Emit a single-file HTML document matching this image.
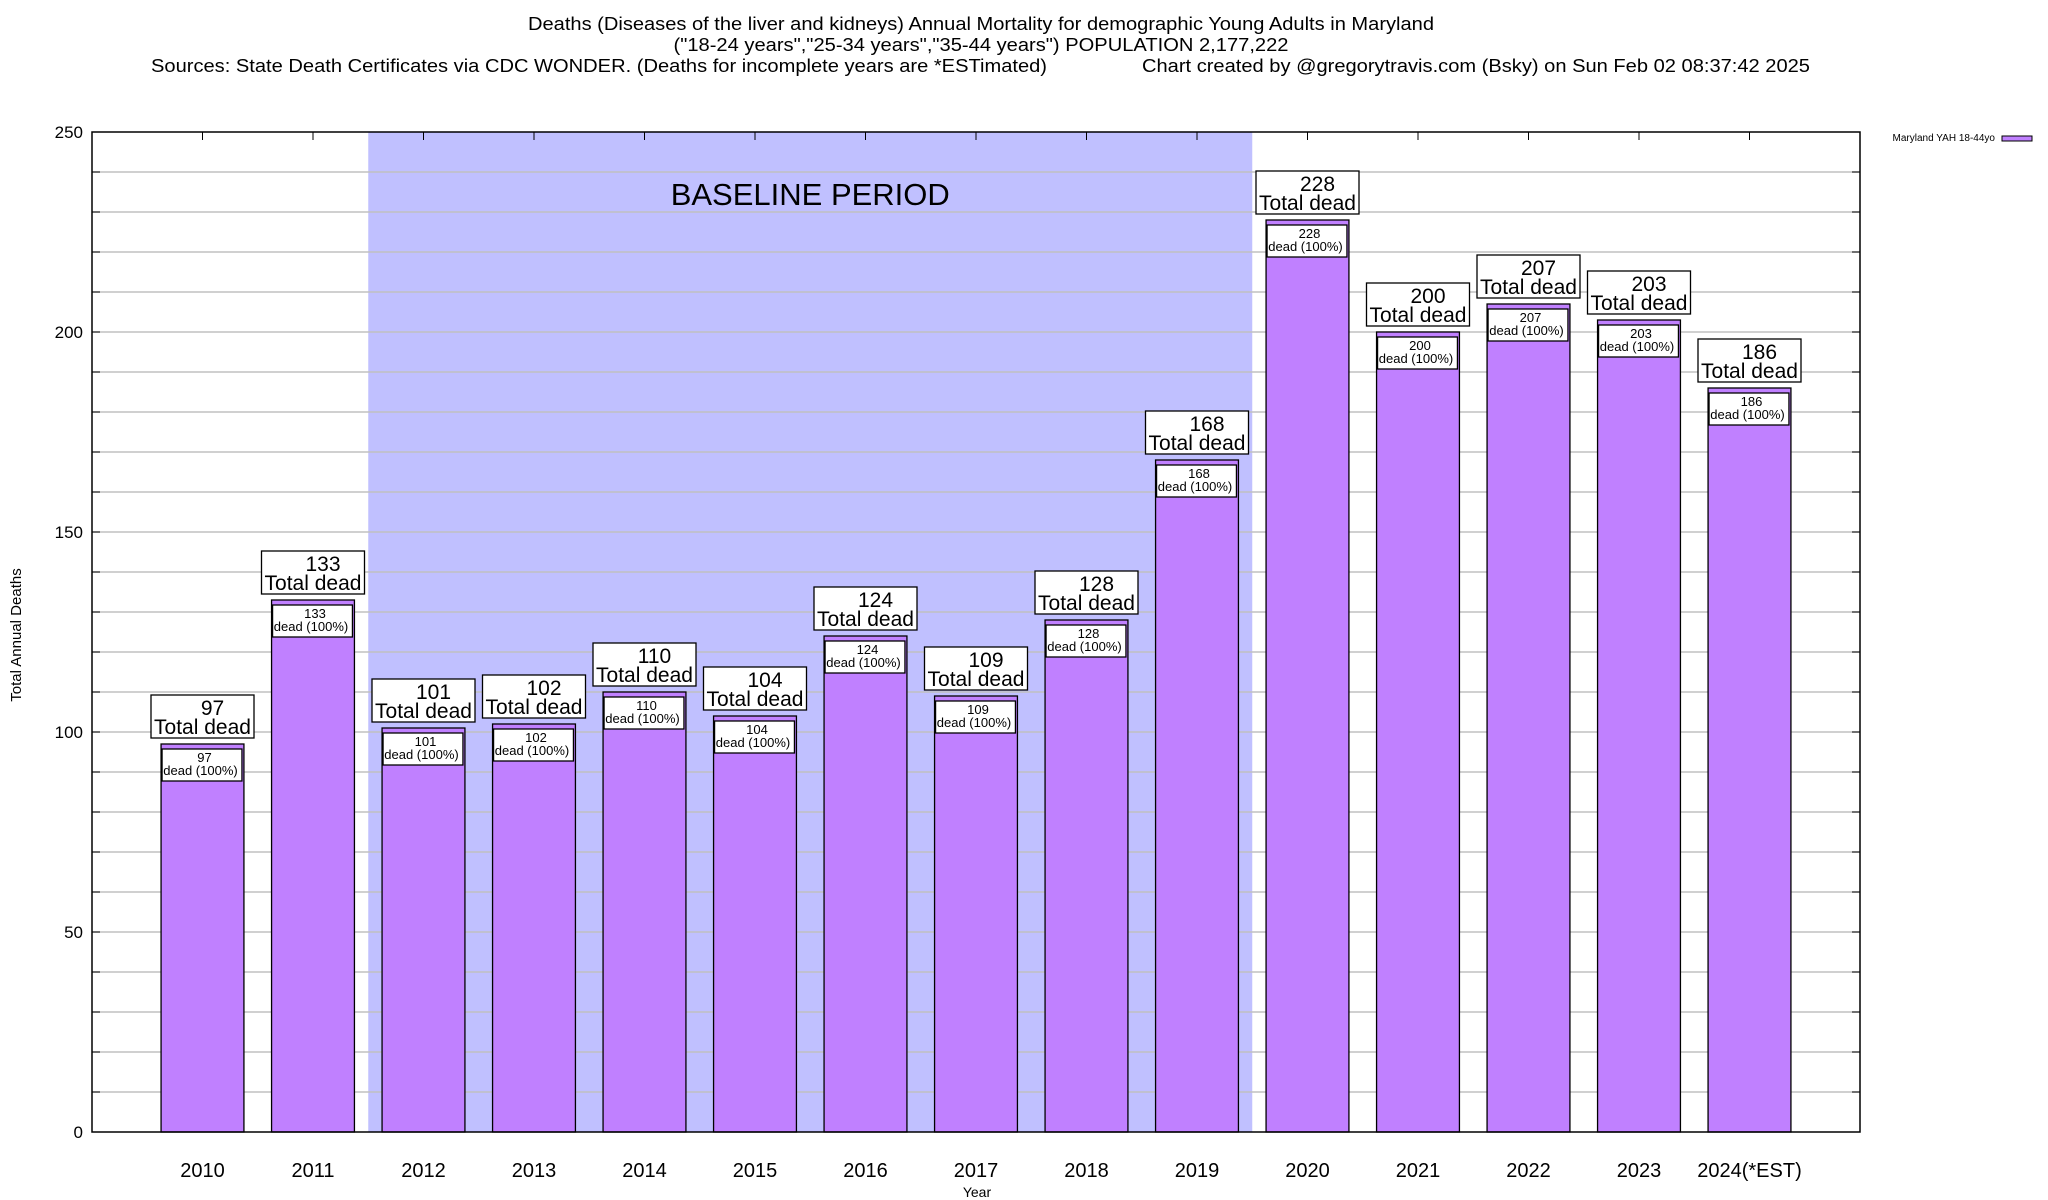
<!DOCTYPE html>
<html><head><meta charset="utf-8"><style>
html,body{margin:0;padding:0;background:#fff;}
svg{display:block;font-family:"Liberation Sans",sans-serif;}
</style></head><body>
<svg id="chart" width="2048" height="1200" viewBox="0 0 2048 1200" xmlns="http://www.w3.org/2000/svg">
<g font-size="18" fill="#000">
<text x="981" y="30" text-anchor="middle" textLength="906" lengthAdjust="spacingAndGlyphs">Deaths (Diseases of the liver and kidneys) Annual Mortality for demographic Young Adults in Maryland</text>
<text x="981" y="51" text-anchor="middle" textLength="615" lengthAdjust="spacingAndGlyphs">("18-24 years","25-34 years","35-44 years") POPULATION 2,177,222</text>
<text x="151" y="72" textLength="896" lengthAdjust="spacingAndGlyphs">Sources: State Death Certificates via CDC WONDER. (Deaths for incomplete years are *ESTimated)</text>
<text x="1142" y="72" textLength="668" lengthAdjust="spacingAndGlyphs">Chart created by @gregorytravis.com (Bsky) on Sun Feb 02 08:37:42 2025</text>
</g>
<g id="plot"></g>
<g>
<text x="1995" y="141" font-size="10" text-anchor="end">Maryland YAH 18-44yo</text>
<rect x="2002" y="136" width="30" height="5" fill="#c080ff" stroke="#000" stroke-width="1"/>
</g>
<text x="0" y="0" font-size="15" text-anchor="middle" transform="translate(21,635) rotate(-90)">Total Annual Deaths</text>
<text x="977" y="1197" font-size="14" text-anchor="middle">Year</text>
</svg>
<script>
const categories = ["2010","2011","2012","2013","2014","2015","2016","2017","2018","2019","2020","2021","2022","2023","2024(*EST)"];
const deaths = [97,133,101,102,110,104,124,109,128,168,228,200,207,203,186];
const yTicks = [0,50,100,150,200,250];
const baselineStart = 1.5, baselineEnd = 9.5;

const L=92,R=1860,T=132,B=1132,xMin=-1,xMax=15,yMax=250;
const xs=v=>L+(v-xMin)/(xMax-xMin)*(R-L);
const ys=v=>B-v/yMax*(B-T);
const NS="http://www.w3.org/2000/svg";
const g=document.getElementById('plot');
function mk(tag,attrs,parent){const e=document.createElementNS(NS,tag);for(const k in attrs)e.setAttribute(k,attrs[k]);(parent||g).appendChild(e);return e;}

const shade=mk('rect',{x:xs(baselineStart),y:T,width:xs(baselineEnd)-xs(baselineStart),height:B-T,fill:'#c0c0ff'});


const bt=mk('text',{x:(xs(baselineStart)+xs(baselineEnd))/2,y:205,'font-size':31,'text-anchor':'middle'});
bt.textContent='BASELINE PERIOD';



for(let v=10;v<yMax;v+=10){
  const gl=mk('line',{x1:L,x2:R,y1:ys(v),y2:ys(v),stroke:'#c0c0c0','stroke-width':1.5});
  
  
  mk('line',{x1:L,x2:L+8,y1:ys(v),y2:ys(v),stroke:'#000'});
  mk('line',{x1:R-8,x2:R,y1:ys(v),y2:ys(v),stroke:'#000'});
}
yTicks.forEach(v=>{
  const t=mk('text',{x:83,y:ys(v)+6,'font-size':17,'text-anchor':'end'});
  t.textContent=v;
  
  
});

const bw=0.75*(xs(1)-xs(0));
categories.forEach((c,i)=>{
  const cx=xs(i), v=deaths[i], top=ys(v);
  mk('line',{x1:cx,x2:cx,y1:T,y2:T+8,stroke:'#000'});
  const bar=mk('rect',{x:cx-bw/2,y:top,width:bw,height:B-top,fill:'#c080ff',stroke:'#000','stroke-width':1.3});
  
  
  const ib=mk('rect',{x:cx-bw/2+1,y:top+5,width:bw-3,height:32,fill:'#fff',stroke:'#000','stroke-width':1.3});
  
  
  const t1=mk('text',{x:cx+2,y:top+18,'font-size':13,'text-anchor':'middle'});t1.textContent=v;
  
  
  const t2=mk('text',{x:cx-2,y:top+31,'font-size':13,'text-anchor':'middle'});t2.textContent='dead (100%)';
  
  
  const ob=mk('rect',{x:cx-51.5,y:top-49,width:103,height:43,fill:'#fff',stroke:'#000','stroke-width':1.3});
  
  
  const o1=mk('text',{x:cx+10,y:top-29,'font-size':21,'text-anchor':'middle'});o1.textContent=v;
  
  
  const o2=mk('text',{x:cx,y:top-10,'font-size':21,'text-anchor':'middle'});o2.textContent='Total dead';
  
  
  const xl=mk('text',{x:cx,y:1177,'font-size':20,'text-anchor':'middle'});xl.textContent=c;
  
  
});
const frame=mk('rect',{x:L,y:T,width:R-L,height:B-T,fill:'none',stroke:'#000','stroke-width':1.5});


</script>
</body></html>
